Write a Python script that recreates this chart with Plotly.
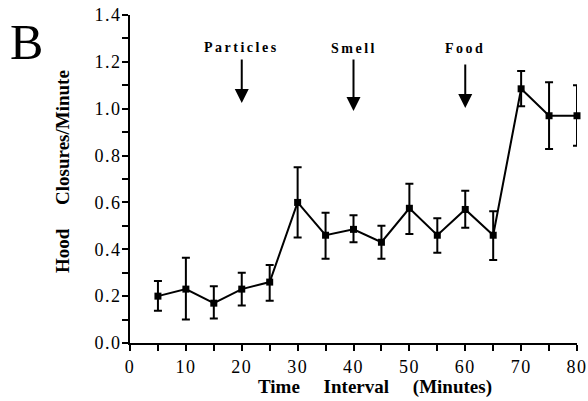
import plotly.graph_objects as go

# Data
time_min = [5, 10, 15, 20, 25, 30, 35, 40, 45, 50, 55, 60, 65, 70, 75, 80]
closures = [0.20, 0.23, 0.17, 0.23, 0.26, 0.60, 0.46, 0.485, 0.43, 0.575, 0.46, 0.57, 0.46, 1.085, 0.97, 0.97]
err_upper = [0.265, 0.364, 0.242, 0.30, 0.333, 0.75, 0.556, 0.545, 0.50, 0.68, 0.533, 0.65, 0.562, 1.161, 1.113, 1.10]
err_lower = [0.138, 0.100, 0.105, 0.16, 0.180, 0.45, 0.360, 0.430, 0.36, 0.465, 0.385, 0.492, 0.354, 1.010, 0.828, 0.842]

events = ["Particles", "Smell", "Food"]
event_x = [20, 40, 60]
arrow_top = [1.216, 1.216, 1.195]
arrow_tip = [1.024, 0.99, 1.003]
label_y = [1.263, 1.259, 1.259]

x_ticks = [0, 10, 20, 30, 40, 50, 60, 70, 80]
x_tick_labels = ["0", "10", "20", "30", "40", "50", "60", "70", "80"]
y_ticks = [0.0, 0.2, 0.4, 0.6, 0.8, 1.0, 1.2, 1.4]
y_tick_labels = ["0.0", "0.2", "0.4", "0.6", "0.8", "1.0", "1.2", "1.4"]

plus = [u - v for u, v in zip(err_upper, closures)]
minus = [v - l for v, l in zip(closures, err_lower)]

SERIF = "Liberation Serif, Times New Roman, serif"
W, H = 588, 401
L, R, T, B = 130, 11, 15, 58
PW, PH = W - L - R, H - T - B


def px(xp):
    return (xp - L) / PW


def py(yp):
    return (H - B - yp) / PH


def spaced(s, ls):
    return '<span style="letter-spacing:%spx">%s</span>' % (ls, s)


fig = go.Figure()
fig.add_trace(go.Scatter(
    x=time_min, y=closures, mode="lines+markers",
    line=dict(color="black", width=2),
    marker=dict(symbol="square", size=7, color="black"),
    error_y=dict(type="data", array=plus, arrayminus=minus, visible=True,
                 color="black", thickness=2, width=4),
    cliponaxis=False, showlegend=False,
))

for name, ex, top, tip, ly in zip(events, event_x, arrow_top, arrow_tip, label_y):
    fig.add_annotation(
        x=ex, y=tip, ax=ex, ay=top, xref="x", yref="y", axref="x", ayref="y",
        text="", showarrow=True, arrowhead=2, arrowsize=1.4, arrowwidth=2,
        arrowcolor="black",
    )
    fig.add_annotation(
        x=ex, y=ly, xref="x", yref="y", text="<b>" + spaced(name, 2.5) + "</b>",
        showarrow=False, font=dict(family=SERIF, size=14, color="black"),
        xanchor="center", yanchor="middle",
    )

fig.add_annotation(
    x=px(8), y=py(12), xref="paper", yref="paper", text="B", showarrow=False,
    font=dict(family=SERIF, size=50, color="black"), xanchor="left", yanchor="top",
)

sp = "\u00a0" * 5
fig.add_annotation(
    x=px(375), y=py(387), xref="paper", yref="paper",
    text="<b>Time" + sp + "Interval" + sp + "(Minutes)</b>",
    showarrow=False, font=dict(family=SERIF, size=19, color="black"),
    xanchor="center", yanchor="middle",
)
fig.add_annotation(
    x=px(62), y=py(172), xref="paper", yref="paper",
    text="<b>Hood" + sp + "Closures/Minute</b>", textangle=-90,
    showarrow=False, font=dict(family=SERIF, size=19, color="black"),
    xanchor="center", yanchor="middle",
)

axis_common = dict(
    ticks="outside", ticklen=6, tickwidth=2, tickcolor="black",
    showline=True, linecolor="black", linewidth=2,
    showgrid=False, zeroline=False, automargin=False,
    tickfont=dict(family=SERIF, size=18, color="black"),
)

fig.update_layout(
    width=W, height=H,
    margin=dict(l=L, r=R, t=T, b=B, autoexpand=False),
    paper_bgcolor="white", plot_bgcolor="white",
    font=dict(family=SERIF, color="black"),
    xaxis=dict(
        range=[0, 80], tickvals=x_ticks,
        ticktext=[spaced(t, 1.5) for t in x_tick_labels],
        minor=dict(dtick=5, ticks="outside", ticklen=6, tickwidth=2,
                   tickcolor="black", showgrid=False),
        **axis_common,
    ),
    yaxis=dict(
        range=[0, 1.4], tickvals=y_ticks,
        ticktext=[spaced(t, 1.5) for t in y_tick_labels],
        ticklabelstandoff=-3,
        minor=dict(dtick=0.1, ticks="outside", ticklen=6, tickwidth=2,
                   tickcolor="black", showgrid=False),
        **axis_common,
    ),
)

fig.write_html(
    "out.html",
    config={"displayModeBar": False},
    post_script="document.body.style.margin='0';document.body.style.overflow='hidden';",
)
